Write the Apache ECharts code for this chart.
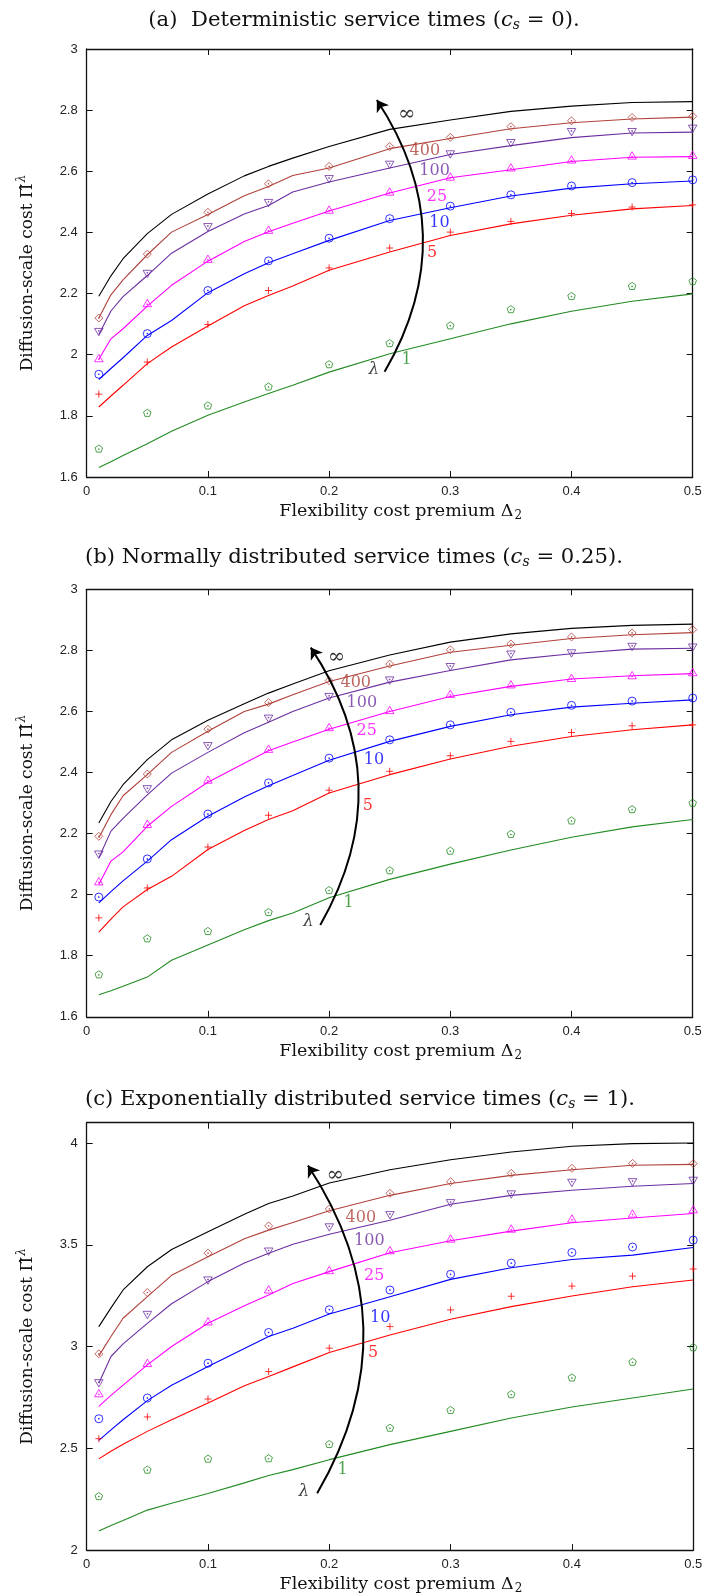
<!DOCTYPE html>
<html><head><meta charset="utf-8">
<script src="https://cdn.jsdelivr.net/npm/echarts@6/dist/echarts.min.js"></script>
<style>html,body{margin:0;padding:0;background:#fff}#c{width:706px;height:1596px}</style>
</head><body><div id="c"></div><script>
// ---------- data ----------
const lambdaNames = ['1','5','10','25','100','400','∞'];
const lineX   = [0.01,0.02,0.03,0.05,0.07,0.1,0.13,0.15,0.17,0.2,0.25,0.3,0.35,0.4,0.45,0.5];
const markerX = [0.01,0.05,0.1,0.15,0.2,0.25,0.3,0.35,0.4,0.45,0.5];

// (a) deterministic, approximation curves
const aLine1   = [1.631,1.650,1.670,1.709,1.750,1.802,1.845,1.873,1.900,1.943,2.003,2.052,2.101,2.142,2.175,2.199];
const aLine5   = [1.829,1.865,1.900,1.971,2.025,2.094,2.160,2.194,2.225,2.276,2.336,2.390,2.428,2.456,2.477,2.488];
const aLine10  = [1.919,1.955,1.990,2.063,2.112,2.203,2.265,2.301,2.330,2.374,2.439,2.481,2.519,2.545,2.559,2.568];
const aLine25  = [1.985,2.052,2.085,2.159,2.227,2.306,2.370,2.402,2.430,2.470,2.529,2.579,2.605,2.632,2.646,2.648];
const aLine100 = [2.066,2.143,2.190,2.259,2.332,2.403,2.460,2.488,2.532,2.565,2.611,2.655,2.684,2.710,2.725,2.728];
const aLine400 = [2.120,2.196,2.245,2.327,2.401,2.459,2.520,2.550,2.586,2.611,2.674,2.707,2.739,2.759,2.771,2.777];
const aLineInf = [2.191,2.258,2.314,2.396,2.459,2.526,2.585,2.616,2.643,2.681,2.737,2.768,2.796,2.813,2.825,2.828];
// (a) simulation points
const aSim1   = [1.693,1.810,1.834,1.896,1.969,2.038,2.096,2.149,2.192,2.225,2.241];
const aSim5   = [1.871,1.976,2.099,2.210,2.284,2.349,2.401,2.436,2.462,2.483,2.490];
const aSim10  = [1.936,2.069,2.210,2.307,2.381,2.445,2.486,2.523,2.552,2.563,2.572];
const aSim25  = [1.989,2.169,2.314,2.409,2.475,2.534,2.583,2.613,2.639,2.652,2.654];
const aSim100 = [2.074,2.264,2.417,2.496,2.574,2.621,2.655,2.692,2.728,2.728,2.739];
const aSim400 = [2.120,2.329,2.466,2.559,2.616,2.681,2.711,2.746,2.765,2.776,2.780];

// (b) normal, approximation curves
const bLine1   = [1.672,1.685,1.700,1.730,1.785,1.835,1.885,1.915,1.940,1.990,2.050,2.100,2.146,2.188,2.222,2.246];
const bLine5   = [1.877,1.920,1.960,2.017,2.060,2.148,2.210,2.246,2.275,2.333,2.393,2.444,2.486,2.518,2.540,2.556];
const bLine10  = [1.973,2.010,2.045,2.110,2.180,2.257,2.320,2.357,2.390,2.440,2.502,2.551,2.589,2.614,2.627,2.638];
const bLine25  = [2.033,2.110,2.140,2.224,2.289,2.368,2.430,2.471,2.500,2.542,2.600,2.649,2.682,2.706,2.717,2.724];
const bLine100 = [2.120,2.208,2.250,2.327,2.398,2.466,2.530,2.565,2.600,2.644,2.696,2.734,2.769,2.789,2.804,2.807];
const bLine400 = [2.186,2.262,2.324,2.393,2.466,2.535,2.600,2.624,2.655,2.698,2.749,2.794,2.817,2.839,2.851,2.858];
const bLineInf = [2.235,2.305,2.360,2.442,2.507,2.571,2.625,2.660,2.690,2.733,2.785,2.827,2.854,2.872,2.882,2.886];
// (b) simulation points
const bSim1   = [1.739,1.857,1.881,1.943,2.015,2.080,2.144,2.199,2.243,2.280,2.301];
const bSim5   = [1.924,2.022,2.156,2.260,2.342,2.404,2.455,2.502,2.531,2.553,2.556];
const bSim10  = [1.992,2.117,2.264,2.366,2.447,2.507,2.556,2.597,2.620,2.634,2.644];
const bSim25  = [2.044,2.232,2.377,2.478,2.549,2.605,2.658,2.689,2.710,2.719,2.729];
const bSim100 = [2.131,2.345,2.486,2.576,2.647,2.701,2.745,2.786,2.790,2.811,2.809];
const bSim400 = [2.191,2.395,2.542,2.629,2.701,2.755,2.802,2.821,2.844,2.857,2.868];

// (c) exponential, approximation curves
const cLine1   = [2.093,2.120,2.145,2.196,2.230,2.278,2.330,2.366,2.395,2.444,2.518,2.583,2.649,2.703,2.747,2.791];
const cLine5   = [2.448,2.485,2.520,2.583,2.640,2.722,2.807,2.853,2.900,2.971,3.057,3.134,3.196,3.248,3.294,3.327];
const cLine10  = [2.539,2.590,2.640,2.734,2.810,2.902,2.990,3.049,3.090,3.160,3.245,3.330,3.387,3.428,3.449,3.487];
const cLine25  = [2.706,2.760,2.810,2.910,3.000,3.114,3.200,3.253,3.310,3.368,3.461,3.520,3.567,3.608,3.632,3.654];
const cLine100 = [2.820,2.951,3.013,3.114,3.210,3.319,3.410,3.458,3.503,3.552,3.621,3.699,3.743,3.768,3.788,3.801];
const cLine400 = [2.954,3.049,3.139,3.245,3.350,3.441,3.530,3.572,3.610,3.667,3.743,3.801,3.841,3.869,3.891,3.895];
const cLineInf = [3.098,3.190,3.278,3.392,3.477,3.564,3.650,3.703,3.740,3.804,3.869,3.918,3.956,3.984,3.997,4.000];
// (c) simulation points
const cSim1   = [2.265,2.395,2.449,2.451,2.521,2.601,2.688,2.766,2.848,2.925,2.997];
const cSim5   = [2.547,2.654,2.742,2.877,2.992,3.098,3.180,3.247,3.297,3.346,3.381];
const cSim10  = [2.645,2.747,2.918,3.069,3.181,3.278,3.355,3.410,3.462,3.489,3.523];
const cSim25  = [2.771,2.920,3.124,3.281,3.376,3.474,3.531,3.580,3.629,3.654,3.675];
const cSim100 = [2.819,3.155,3.324,3.466,3.585,3.645,3.704,3.747,3.804,3.807,3.814];
const cSim400 = [2.964,3.265,3.459,3.593,3.676,3.753,3.810,3.851,3.876,3.900,3.899];

// annotation anchors (data coordinates), order: 1,5,10,25,100,400,∞,λ
const aLabelX = [0.264,0.285,0.291,0.289,0.287,0.279,0.264,0.237];
const aLabelY = [1.984,2.332,2.431,2.518,2.603,2.666,2.786,1.951];
const bLabelX = [0.216,0.232,0.237,0.231,0.227,0.222,0.206,0.183];
const bLabelY = [1.973,2.292,2.442,2.535,2.627,2.693,2.778,1.913];
const cLabelX = [0.211,0.236,0.242,0.237,0.233,0.226,0.205,0.179];
const cLabelY = [2.395,2.971,3.142,3.346,3.518,3.632,3.842,2.289];
// arrow start / end (data coordinates)
const aArrow = [[0.2458,1.944],[0.2394,2.833]];
const bArrow = [[0.1927,1.901],[0.1849,2.809]];
const cArrow = [[0.1900,2.279],[0.1824,3.890]];

// ---------- styles ----------
const colors = ['#228b22','#ff0000','#0000ff','#ff00ff','#6b2ea0','#b0403a','#000000'];
const DOT = 'M4.55,4.55L5.45,4.55L5.45,5.45L4.55,5.45Z';
const symbols = [
  'path://M5,0L9.76,3.45L7.94,9.05L2.06,9.05L0.24,3.45Z M4.55,4.75L5.45,4.75L5.45,5.65L4.55,5.65Z',
  'path://M5,0L5,10M0,5L10,5',
  'path://M0,5A5,5,0,1,1,10,5A5,5,0,1,1,0,5Z' + DOT,
  'path://M5,0L10,8.66L0,8.66Z M4.55,5.3L5.45,5.3L5.45,6.2L4.55,6.2Z',
  'path://M0,0L10,0L5,8.66Z M4.55,2.45L5.45,2.45L5.45,3.35L4.55,3.35Z',
  'path://M5,0L10,5L5,10L0,5Z' + DOT
];
const symbolSizes = [7.5, 7, 8, 8.5, 8.5, 8];
const SERIF = 'DejaVu Serif';
const SANS = 'Liberation Sans';
const FRAME = '#111';

const grids = [
  {left: 86.7, top: 49, width: 606, height: 428},
  {left: 86.7, top: 589.3, width: 606, height: 427.5},
  {left: 86.7, top: 1122.7, width: 606.5, height: 428.3}
];

const panels = [
  {lines:[aLine1,aLine5,aLine10,aLine25,aLine100,aLine400,aLineInf], sims:[aSim1,aSim5,aSim10,aSim25,aSim100,aSim400],
   lx:aLabelX, ly:aLabelY, arrow:aArrow, yMin:1.6, yMax:3, yInt:0.2},
  {lines:[bLine1,bLine5,bLine10,bLine25,bLine100,bLine400,bLineInf], sims:[bSim1,bSim5,bSim10,bSim25,bSim100,bSim400],
   lx:bLabelX, ly:bLabelY, arrow:bArrow, yMin:1.6, yMax:3, yInt:0.2},
  {lines:[cLine1,cLine5,cLine10,cLine25,cLine100,cLine400,cLineInf], sims:[cSim1,cSim5,cSim10,cSim25,cSim100,cSim400],
   lx:cLabelX, ly:cLabelY, arrow:cArrow, yMin:2, yMax:4.1, yInt:0.5}
];

const xName = '{n|Flexibility cost premium Δ}{s|2}';
const yName = '{n|Diffusion-scale cost Π̂}{p|λ}';
const nameRich = {
  n: {fontFamily: SERIF, fontSize: 17, color: '#111'},
  s: {fontFamily: SERIF, fontSize: 12, color: '#111', padding: [9,0,0,1]},
  p: {fontFamily: SERIF, fontSize: 12, color: '#111', fontStyle: 'italic', padding: [0,0,12,1]}
};

const xAxes = [], yAxes = [], series = [];
panels.forEach((p, gi) => {
  const axLine = {show: true, onZero: false, lineStyle: {color: FRAME, width: 1.3}};
  const axTick = {show: true, inside: true, length: 6, lineStyle: {color: FRAME, width: 1}};
  xAxes.push({type: 'value', gridIndex: gi, position: 'bottom', min: 0, max: 0.5, interval: 0.1,
    axisLine: axLine, axisTick: axTick, splitLine: {show: false},
    axisLabel: {margin: 8, fontFamily: SANS, fontSize: 13, color: '#222'},
    name: xName, nameLocation: 'middle', nameGap: 24,
    nameTextStyle: {fontFamily: SERIF, fontSize: 17.5, color: '#111', padding: [0,0,0,22],
      rich: Object.assign({}, nameRich, {n: {fontFamily: SERIF, fontSize: 17.5, color: '#111'}})}});
  xAxes.push({type: 'value', gridIndex: gi, position: 'top', min: 0, max: 0.5, interval: 0.1,
    axisLine: axLine, axisTick: axTick, splitLine: {show: false}, axisLabel: {show: false}});
  yAxes.push({type: 'value', gridIndex: gi, position: 'left', min: p.yMin, max: p.yMax, interval: p.yInt,
    axisLine: axLine, axisTick: axTick, splitLine: {show: false},
    axisLabel: {margin: 9, fontFamily: SANS, fontSize: 13, color: '#222', showMaxLabel: gi < 2},
    name: yName, nameLocation: 'middle', nameGap: 47,
    nameTextStyle: {fontFamily: SERIF, fontSize: 17, color: '#111', padding: [0,20,0,0], rich: nameRich}});
  yAxes.push({type: 'value', gridIndex: gi, position: 'right', min: p.yMin, max: p.yMax, interval: p.yInt,
    axisLine: axLine, axisTick: axTick, splitLine: {show: false}, axisLabel: {show: false}});

  const xi = gi * 2, yi = gi * 2;
  p.lines.forEach((arr, k) => {
    series.push({type: 'line', xAxisIndex: xi, yAxisIndex: yi, symbol: 'none', showSymbol: false,
      lineStyle: {color: colors[k], width: 1.1}, itemStyle: {color: colors[k]}, z: 2, silent: true,
      data: lineX.map((x, i) => [x, arr[i]])});
  });
  p.sims.forEach((arr, k) => {
    series.push({type: 'scatter', xAxisIndex: xi, yAxisIndex: yi, symbol: symbols[k], symbolSize: symbolSizes[k],
      symbolKeepAspect: true,
      itemStyle: {color: 'rgba(0,0,0,0)', borderColor: colors[k], borderWidth: 1}, z: 3, silent: true,
      data: markerX.map((x, i) => [x, arr[i]])});
  });
  const labelData = p.lx.map((x, i) => {
    const isLam = i === 7, isInf = i === 6;
    return {value: [x, p.ly[i]], label: {
      show: true, position: 'inside',
      formatter: isLam ? 'λ' : lambdaNames[i],
      color: isLam ? '#111' : colors[i],
      fontFamily: SERIF,
      fontStyle: isLam ? 'italic' : 'normal',
      fontSize: isInf ? 21 : (isLam ? 17 : 16)}};
  });
  series.push({type: 'scatter', xAxisIndex: xi, yAxisIndex: yi, symbol: 'circle', symbolSize: 1,
    itemStyle: {color: 'rgba(0,0,0,0)'}, z: 6, silent: true,
    label: {show: true, position: 'inside', fontFamily: SERIF, fontSize: 16},
    data: labelData});
  series.push({type: 'lines', coordinateSystem: 'cartesian2d', xAxisIndex: xi, yAxisIndex: yi,
    symbol: ['none', 'arrow'], symbolSize: 11, silent: true, z: 5,
    lineStyle: {color: '#000', width: 2, curveness: -0.31, opacity: 1},
    data: [{coords: p.arrow}]});
});

function titleText(letter, body, val) {
  return '{n|' + letter + ' ' + body + ' (}{i|c}{s|s}{n| = ' + val + ').}';
}
const TFS = 21.2;
const titleRich = {
  n: {fontFamily: SERIF, fontSize: TFS, fill: '#111', color: '#111'},
  i: {fontFamily: SERIF, fontSize: TFS, fill: '#111', color: '#111', fontStyle: 'italic'},
  s: {fontFamily: SERIF, fontSize: 14, fill: '#111', color: '#111', fontStyle: 'italic', padding: [10,0,0,0]}
};
const titles = [
  {t: titleText('(a) ', 'Deterministic service times', '0'), x: 364, y: 20},
  {t: titleText('(b)', 'Normally distributed service times', '0.25'), x: 354, y: 557},
  {t: titleText('(c)', 'Exponentially distributed service times', '1'), x: 360, y: 1099}
];

const chart = echarts.init(document.getElementById('c'), null, {renderer: 'canvas'});
chart.setOption({
  animation: false,
  backgroundColor: '#fff',
  grid: grids,
  xAxis: xAxes,
  yAxis: yAxes,
  series: series,
  graphic: titles.map(o => ({type: 'text', x: o.x, y: o.y, silent: true,
    style: {text: o.t, rich: titleRich, align: 'center', verticalAlign: 'middle',
      fontFamily: SERIF, fontSize: TFS, fill: '#111'}}))
});
</script></body></html>
